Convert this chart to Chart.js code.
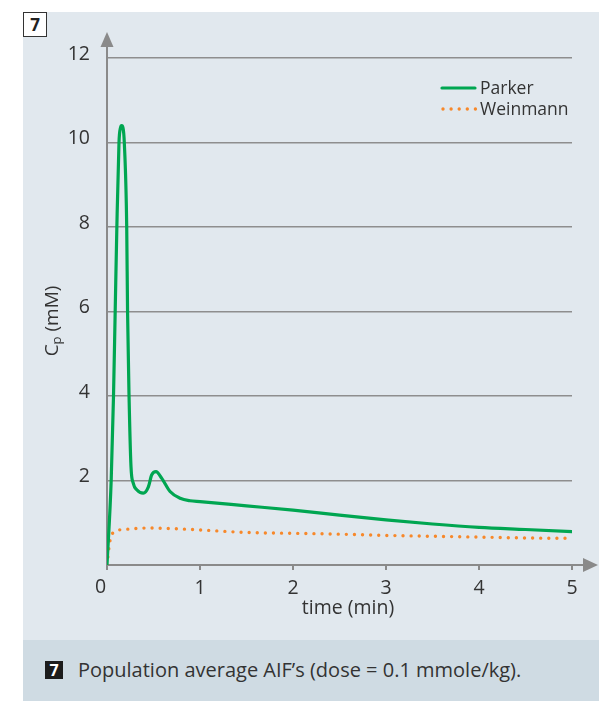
<!DOCTYPE html>
<html>
<head>
<meta charset="utf-8">
<script src="https://cdn.jsdelivr.net/npm/chart.js@4/dist/chart.umd.min.js"></script>
<style>
  html,body{margin:0;padding:0;background:#fff;}
  body{width:599px;height:701px;position:relative;overflow:hidden;font-family:"Open Sans",sans-serif;}
  #panel{position:absolute;left:23px;top:12px;width:576px;height:628px;background:#e1e8ee;}
  #cap{position:absolute;left:23px;top:640px;width:576px;height:61px;background:#cfdbe3;}
  #capnum{position:absolute;left:22px;top:21px;width:18px;height:18px;background:#1c1c1c;color:#fff;font:bold 16px "Open Sans";text-align:center;line-height:18px;}
  #captext{position:absolute;left:55px;top:18px;color:#333;font:20px "Open Sans";line-height:24px;white-space:nowrap;}
  #fig{position:absolute;left:23px;top:12px;width:24px;height:25px;box-sizing:border-box;border:1px solid #333;background:#fff;color:#222;font:bold 17px "Open Sans";text-align:center;line-height:23px;}
  canvas{position:absolute;left:0;top:0;}
</style>
</head>
<body>
<div id="panel"></div>
<div id="cap"><div id="capnum">7</div><div id="captext">Population average AIF’s (dose = 0.1 mmole/kg).</div></div>
<canvas id="c" width="599" height="701"></canvas>
<div id="fig">7</div>
<script>
// ---- data ----
const parkerT = [0, 0.045, 0.070, 0.088, 0.106, 0.129, 0.145, 0.158, 0.172, 0.186, 0.212, 0.221, 0.237, 0.258, 0.283, 0.320, 0.390, 0.445, 0.480, 0.527, 0.589, 0.678, 0.786, 0.893, 1.0, 1.5, 2.0, 2.5, 3.0, 3.5, 4.0, 4.5, 5.0];
const parkerC = [0, 2.0, 4.0, 6.0, 8.0, 10.0, 10.35, 10.4, 10.35, 10.0, 8.0, 6.0, 4.0, 2.33, 1.93, 1.78, 1.70, 1.85, 2.13, 2.21, 2.05, 1.74, 1.58, 1.52, 1.50, 1.40, 1.30, 1.18, 1.07, 0.97, 0.89, 0.84, 0.79];
const weinT = [0, 0.03, 0.05, 0.10, 0.19, 0.28, 0.46, 0.55, 0.82, 1.0, 1.5, 2.0, 2.5, 3.0, 3.5, 4.0, 4.5, 5.0];
const weinC = [0, 0.55, 0.71, 0.81, 0.84, 0.86, 0.875, 0.87, 0.85, 0.83, 0.77, 0.75, 0.73, 0.70, 0.68, 0.66, 0.64, 0.63];
const seriesNames = ['Parker', 'Weinmann'];
const xTitle = 'time (min)';
const yTitleMain = 'C', yTitleSub = 'p', yTitleRest = ' (mM)';
const zeroLabel = '0';

const GREEN = '#00a651', ORANGE = '#f7882a', TEXT = '#333333', AXIS = '#8a8a8a', GRID = '#8e8e8e';
const FONT = '"Open Sans", sans-serif';
const TICK_SIZE = 19.5;

const extras = {
  id: 'extras',
  afterDraw(chart) {
    const ctx = chart.ctx, a = chart.chartArea;
    ctx.save();
    // y axis arrow
    ctx.strokeStyle = AXIS; ctx.fillStyle = AXIS; ctx.lineWidth = 2;
    ctx.beginPath(); ctx.moveTo(a.left, a.top + 1); ctx.lineTo(a.left, 46); ctx.stroke();
    ctx.beginPath(); ctx.moveTo(a.left - 6.5, 47); ctx.lineTo(a.left + 6.5, 47); ctx.lineTo(a.left, 32); ctx.closePath(); ctx.fill();
    // x axis arrow
    ctx.beginPath(); ctx.moveTo(a.right - 1, a.bottom); ctx.lineTo(584, a.bottom); ctx.stroke();
    ctx.beginPath(); ctx.moveTo(583, a.bottom - 7); ctx.lineTo(583, a.bottom + 7); ctx.lineTo(598, a.bottom); ctx.closePath(); ctx.fill();
    // origin label (sits left of the axis in the reference)
    ctx.fillStyle = TEXT;
    ctx.font = TICK_SIZE + 'px ' + FONT; ctx.textAlign = 'center'; ctx.textBaseline = 'middle';
    ctx.fillText(zeroLabel, chart.scales.x.getPixelForValue(0) - 6.5, 587);
    // axis titles
    ctx.font = '19.5px ' + FONT;
    ctx.fillText(xTitle, 348, 608);
    ctx.translate(52, 321); ctx.rotate(-Math.PI / 2);
    ctx.textAlign = 'left'; ctx.textBaseline = 'alphabetic';
    ctx.font = '19px ' + FONT; const wC = ctx.measureText(yTitleMain).width, wR = ctx.measureText(yTitleRest).width;
    ctx.font = '13px ' + FONT; const wS = ctx.measureText(yTitleSub).width;
    let x0 = -(wC + wS + wR) / 2;
    ctx.font = '19px ' + FONT; ctx.fillText(yTitleMain, x0, 6);
    ctx.font = '13px ' + FONT; ctx.fillText(yTitleSub, x0 + wC, 9);
    ctx.font = '19px ' + FONT; ctx.fillText(yTitleRest, x0 + wC + wS, 6);
    ctx.restore();
    // legend
    ctx.save();
    const ds = chart.data.datasets;
    ctx.lineCap = 'round';
    ctx.strokeStyle = ds[0].borderColor; ctx.lineWidth = 3.2;
    ctx.beginPath(); ctx.moveTo(442, 88); ctx.lineTo(475, 88); ctx.stroke();
    ctx.strokeStyle = ds[1].borderColor; ctx.lineWidth = 3.4; ctx.setLineDash([0, 8.1]);
    ctx.beginPath(); ctx.moveTo(443, 109); ctx.lineTo(476, 109); ctx.stroke();
    ctx.setLineDash([]);
    ctx.fillStyle = TEXT; ctx.font = '17.5px ' + FONT; ctx.textAlign = 'left'; ctx.textBaseline = 'middle';
    ctx.fillText(ds[0].label, 480, 89);
    ctx.fillText(ds[1].label, 480, 110);
    ctx.restore();
  }
};

new Chart(document.getElementById('c'), {
  type: 'line',
  data: {
    datasets: [
      { label: seriesNames[0], data: parkerT.map((t, i) => ({ x: t, y: parkerC[i] })),
        borderColor: GREEN, borderWidth: 3.2, pointRadius: 0, fill: false,
        cubicInterpolationMode: 'monotone', borderCapStyle: 'round', borderJoinStyle: 'round' },
      { label: seriesNames[1], data: weinT.map((t, i) => ({ x: t, y: weinC[i] })),
        borderColor: ORANGE, borderWidth: 3.4, pointRadius: 0, fill: false,
        cubicInterpolationMode: 'monotone', borderCapStyle: 'round', borderDash: [0, 8.1] }
    ]
  },
  options: {
    responsive: false, animation: false, devicePixelRatio: 1,
    layout: { padding: { left: 0, right: 27, top: 58, bottom: 0 } },
    plugins: { legend: { display: false }, tooltip: { enabled: false } },
    scales: {
      x: {
        type: 'linear', min: 0, max: 5,
        afterFit: s => { s.height = 136; },
        ticks: { stepSize: 1, color: TEXT, font: { family: FONT, size: TICK_SIZE }, padding: 7, maxRotation: 0,
                 callback: v => (v === 0 ? '' : String(v)) },
        grid: { drawOnChartArea: false, drawTicks: true, tickLength: 5, color: AXIS, lineWidth: 2 },
        border: { display: true, color: AXIS, width: 2 }
      },
      y: {
        type: 'linear', min: 0, max: 12,
        afterFit: s => { s.width = 107; },
        ticks: { stepSize: 2, color: TEXT, font: { family: FONT, size: TICK_SIZE }, padding: 17, labelOffset: -4,
                 callback: v => (v === 0 ? '' : String(v)) },
        grid: { drawTicks: false, lineWidth: 1.5, color: c => (c.tick && c.tick.value === 0 ? 'rgba(0,0,0,0)' : GRID) },
        border: { display: true, color: AXIS, width: 2 }
      }
    }
  },
  plugins: [extras]
});
</script>
</body>
</html>
